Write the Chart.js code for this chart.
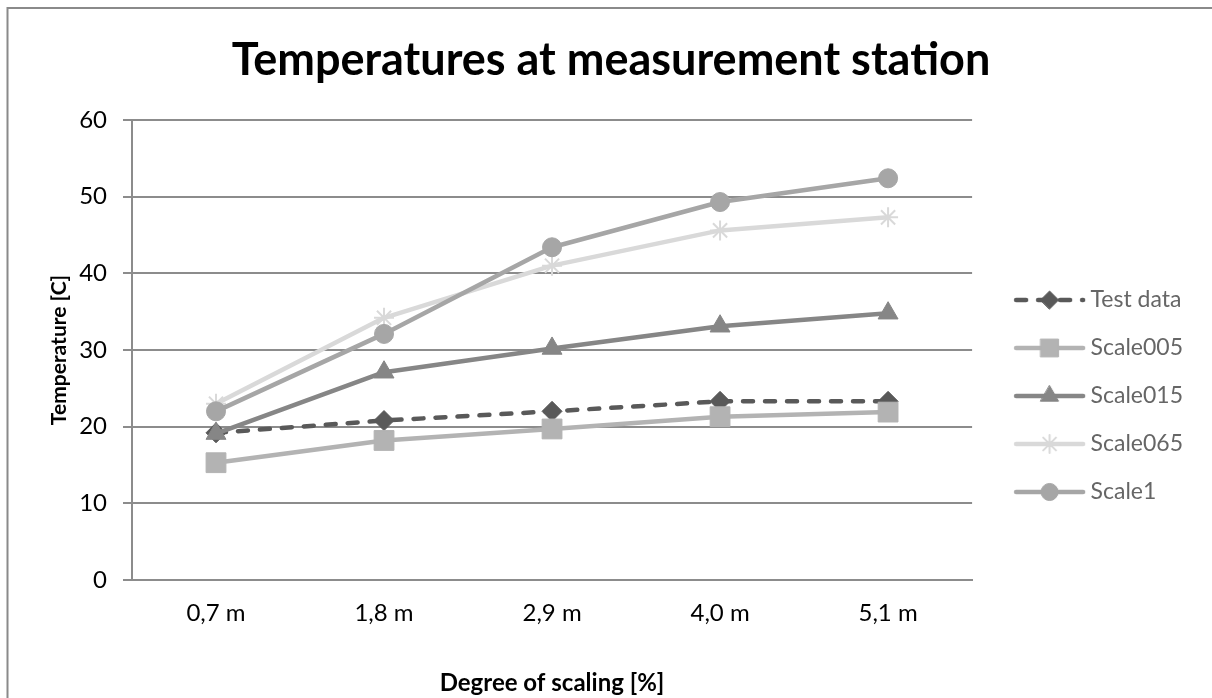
<!DOCTYPE html>
<html>
<head>
<meta charset="utf-8">
<script src="https://cdn.jsdelivr.net/npm/chart.js@4.4.1/dist/chart.umd.min.js"></script>
<style>
  body { margin: 0; background: #fff; }
  #wrap { width: 1212px; height: 698px; }
</style>
</head>
<body>
<div id="wrap"><canvas id="mychart" width="1212" height="698"></canvas></div>
<script>
// values
const labels = ['0,7 m', '1,8 m', '2,9 m', '4,0 m', '5,1 m'];
const testData = [19.2, 20.8, 22.0, 23.3, 23.3];
const scale005 = [15.3, 18.2, 19.7, 21.3, 21.9];
const scale015 = [19.1, 27.1, 30.2, 33.1, 34.8];
const scale065 = [23.0, 34.2, 41.0, 45.6, 47.3];
const scale1 = [22.0, 32.1, 43.4, 49.3, 52.4];
const yTicks = [0, 10, 20, 30, 40, 50, 60];

const FONT = 'Lato';
const gridColor = '#8c8c8c';

function series(label, data, color, style, radius, order, extra) {
    return Object.assign({
        label: label,
        data: data,
        borderColor: color,
        backgroundColor: color,
        borderWidth: 4.5,
        pointStyle: style,
        pointRadius: radius,
        pointHoverRadius: radius,
        pointBackgroundColor: color,
        pointBorderColor: color,
        pointBorderWidth: 1,
        borderCapStyle: 'round',
        borderJoinStyle: 'round',
        tension: 0,
        order: order
    }, extra || {});
}

const datasets = [
    series('Test data', testData, '#595959', 'rectRot', 10, 5, { borderDash: [10, 12] }),
    series('Scale005', scale005, '#b3b3b3', 'rect', 14, 4),
    series('Scale015', scale015, '#868686', 'triangle', 11.5, 3),
    series('Scale065', scale065, '#d9d9d9', 'star', 10, 2, { pointBorderWidth: 2 }),
    series('Scale1', scale1, '#a6a6a6', 'circle', 9.5, 1)
];

// small picture of line + marker for the legend
function legendIcon(ds) {
    const c = document.createElement('canvas');
    c.width = 100;
    c.height = 30;
    const g = c.getContext('2d');
    g.strokeStyle = ds.borderColor;
    g.fillStyle = ds.pointBackgroundColor;
    g.lineWidth = ds.borderWidth;
    g.lineCap = 'round';
    g.setLineDash(ds.borderDash || []);
    g.beginPath();
    g.moveTo(28, 15);
    g.lineTo(95, 15);
    g.stroke();
    g.setLineDash([]);
    g.lineWidth = ds.pointBorderWidth;
    g.strokeStyle = ds.pointBorderColor;
    Chart.helpers.drawPoint(g, {
        pointStyle: ds.pointStyle,
        radius: ds.pointRadius * 0.9,
        borderWidth: ds.pointBorderWidth,
        rotation: 0
    }, 61.5, 15);
    return c;
}

const frame = {
    id: 'frame',
    beforeDraw(chart) {
        const ctx = chart.ctx;
        ctx.save();
        ctx.fillStyle = '#fff';
        ctx.fillRect(0, 0, chart.width, chart.height);
        ctx.strokeStyle = '#8a8a8a';
        ctx.lineWidth = 2;
        ctx.beginPath();
        ctx.moveTo(7.5, chart.height + 2);
        ctx.lineTo(7.5, 8);
        ctx.lineTo(chart.width + 2, 8);
        ctx.stroke();
        ctx.restore();
    }
};

const ctx = document.getElementById('mychart');

new Chart(ctx, {
    type: 'line',
    data: { labels: labels, datasets: datasets },
    plugins: [frame],
    options: {
        responsive: false,
        animation: false,
        layout: { padding: { left: 29, right: 19, top: 0, bottom: 0 } },
        plugins: {
            title: {
                display: true,
                text: 'Temperatures at measurement station',
                color: '#000',
                font: { family: FONT, size: 45, weight: 'bold' },
                padding: { top: 33, bottom: 33 }
            },
            legend: {
                position: 'right',
                align: 'start',
                title: { display: true, text: ' ', font: { size: 10 }, padding: { top: 251.5, bottom: 0 } },
                labels: {
                    usePointStyle: true,
                    pointStyleWidth: 82,
                    padding: 25,
                    color: '#000',
                    font: { family: FONT, size: 23 },
                    generateLabels(chart) {
                        return chart.data.datasets.map((ds, i) => ({
                            text: ds.label,
                            pointStyle: legendIcon(ds),
                            fillStyle: ds.borderColor,
                            strokeStyle: ds.borderColor,
                            lineWidth: 0,
                            hidden: false,
                            datasetIndex: i
                        }));
                    }
                }
            },
            tooltip: { enabled: false }
        },
        scales: {
            x: {
                offset: true,
                grid: { display: false, drawTicks: false },
                border: { display: true, color: gridColor, width: 2 },
                ticks: { color: '#000', padding: 19, font: { family: FONT, size: 24 } },
                title: {
                    display: true,
                    text: 'Degree of scaling [%]',
                    color: '#000',
                    font: { family: FONT, size: 24, weight: 'bold' },
                    padding: { top: 0, bottom: 0 }
                },
                afterFit(scale) { scale.height = 118; }
            },
            y: {
                min: yTicks[0],
                max: yTicks[yTicks.length - 1],
                afterBuildTicks(scale) { scale.ticks = yTicks.map(v => ({ value: v })); },
                grid: { color: gridColor, lineWidth: 2, tickLength: 9 },
                border: { display: true, color: gridColor, width: 2 },
                ticks: { color: '#000', padding: 16, font: { family: FONT, size: 24 } },
                title: {
                    display: true,
                    text: 'Temperature [C]',
                    color: '#000',
                    font: { family: FONT, size: 21, weight: 'bold' },
                    padding: { top: 18, bottom: 0 }
                },
                afterFit(scale) { scale.width = 103; }
            }
        }
    }
});
</script>
</body>
</html>
